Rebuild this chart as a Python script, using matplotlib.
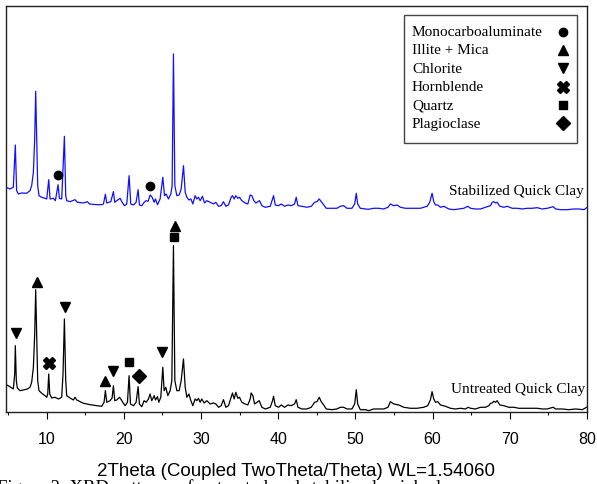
import matplotlib
matplotlib.use("Agg")
import numpy as np
from matplotlib import pyplot as plt
from matplotlib.patches import Rectangle
from matplotlib.ticker import MultipleLocator

# 2theta / intensity (arbitrary units)
untreated_2theta = [
    4.72, 5.02, 5.33, 5.67, 5.85, 5.93, 6.06, 6.19, 6.54, 6.97, 7.49, 7.83, 8.05, 8.27, 8.44, 8.57,
    8.70, 8.83, 9.00, 9.35, 9.78, 10.0, 10.13, 10.26, 10.39, 10.64, 11.08, 11.51, 11.94, 12.11, 12.29,
    12.46, 12.59, 13.02, 13.45, 13.67, 13.89, 14.75, 15.62, 16.48, 17.13, 17.43, 17.60, 17.78, 18.21,
    18.47, 18.64, 18.81, 19.07, 19.42, 19.59, 19.85, 20.16, 20.46, 20.67, 20.85, 21.24, 21.58, 21.84,
    22.01, 22.32, 22.62, 22.88, 23.18, 23.40, 23.61, 23.92, 24.09, 24.35, 24.52, 24.78, 25.04, 25.21,
    25.43, 25.69, 25.99, 26.21, 26.42, 26.60, 26.86, 27.16, 27.42, 27.72, 27.94, 28.16, 28.42, 28.68,
    28.93,
    29.23, 29.45, 29.66, 29.88, 30.09, 30.40, 30.74, 31.18, 31.61, 31.91, 32.26, 32.60, 32.90, 33.21,
    33.55, 33.90, 34.07, 34.29, 34.50, 34.76, 34.98, 35.28, 35.71, 36.06, 36.36, 36.49, 36.71, 36.93,
    37.23, 37.53, 37.88, 38.31, 38.96, 39.26, 39.39, 39.61, 40.04, 40.38, 40.82, 41.25, 41.68, 42.11,
    42.33, 42.55, 43.06, 43.71, 44.28, 44.71, 45.01, 45.31, 45.57, 45.88, 46.22, 46.96, 47.60, 48.04,
    48.47, 48.90, 49.55, 49.90, 50.11, 50.29, 50.63, 51.28, 51.71, 52.36, 53.01, 53.66, 54.22,
    54.53, 54.96, 55.61, 56.26, 57.12, 57.99, 58.85, 59.37, 59.72, 59.93, 60.15, 60.37, 60.67, 61.02,
    61.66, 62.31, 62.96, 63.61, 64.26, 64.60, 64.91, 65.55, 66.20, 66.85, 67.28, 67.50, 67.72, 67.93,
    68.15, 68.36, 68.71, 69.23, 69.88, 70.53, 71.18, 71.82, 72.69, 73.55, 74.20, 74.85, 75.63, 75.93,
    76.80, 77.66, 78.53, 79.39, 79.95,
]
untreated_int = [
    25.3, 24.3, 22.7, 21, 36, 64.3, 29.3, 22, 19.3, 20, 21, 22.7, 27.7, 42.7, 76, 120.3,
    72.7, 29.3, 19.3, 16.7, 14.3, 12.7, 16, 36, 16, 12, 12.7, 11, 12.7, 36, 91,
    29.3, 14.3, 12, 10, 12.7, 10, 6.7, 5.3, 4.3, 3.7, 7.7, 19.3, 7.7, 9.3,
    12, 24.3, 9.3, 10, 12.7, 11, 7.7, 4.3, 7.7, 34.3, 6, 4.3, 7.7, 23.3,
    6, 3.3, 9.3, 7.7, 11, 16, 9.3, 14.3, 10, 13.3, 7.7, 12.7, 42.7, 19.3,
    22.7, 14.3, 19.3, 29.3, 164.3, 29.3, 19.3, 19.3, 29.3, 51, 22.7, 12.7, 16, 9.3,
    4.3,
    11, 9.3, 11.7, 7.7, 11, 7, 9.3, 6, 7, 6, 2.7, 4.3, 10.3, 2.7,
    4.3, 12.7, 17, 11, 17.7, 11.7, 12.7, 7.7, 6, 5, 11, 17, 14.3, 6,
    7.7, 9.3, 2.7, 1, 2.7, 9.3, 13.7, 4.3, 2.7, 5, 2.7, 5, 4.3, 6,
    10.3, 2.7, 1, 1, 2.7, 7.7, 8.3, 12.7, 8.3, 5, 1, 0.3, 1, 2.7,
    2.7, 1, 1, 6, 20.3, 6, 0.3, 0.3, -0.7, 1, 1, 1, 2.7,
    8.3, 6, 5, 2.7, 1.7, 1.7, 2.7, 4.3, 10.3, 18.3, 11, 7.7, 8.3, 5,
    3.7, 1.7, 1, 1.7, 1, 2.7, 1.7, 1, 2.7, 2.7, 4.3, 6.7, 7, 8.7,
    7.7, 9.3, 5, 4.3, 2.7, 2.7, 1.7, 1.7, 1.7, 1.7, 1, 1, 2.7, 1,
    1, 0.3, 1, 0.3, 2.7,
]

stabilized_2theta = [
    4.72, 5.24, 5.67, 5.93, 6.10, 6.32, 6.75, 7.40, 7.83, 8.05, 8.27, 8.44, 8.57, 8.70, 8.83, 9.00,
    9.35, 9.78, 10.0, 10.26, 10.43, 10.86, 11.12, 11.47, 11.64, 11.94, 12.29, 12.46, 12.59, 13.02,
    13.67, 13.97, 14.75, 15.27, 15.53, 16.48, 17.13, 17.35, 17.60, 17.78, 18.30, 18.64, 18.81, 19.07,
    19.51, 19.77, 20.07, 20.37, 20.67, 20.89, 21.24, 21.58, 21.84, 22.01, 22.32, 22.62, 22.88, 23.14,
    23.40, 23.66, 23.92, 24.09, 24.35, 24.69, 25.04, 25.26, 25.47, 25.77, 26.08, 26.25, 26.42, 26.60,
    26.86, 27.16, 27.42, 27.72, 27.94, 28.16, 28.42, 28.68, 28.93,
    29.23, 29.45, 29.66, 29.88, 30.18, 30.44, 30.74, 31.18, 31.61, 31.91, 32.26, 32.60, 32.90, 33.21,
    33.55, 33.90, 34.07, 34.29, 34.50, 34.76, 34.98, 35.28, 35.71, 36.06, 36.36, 36.58, 36.84, 37.10,
    37.36, 37.57, 37.88, 38.31, 38.96, 39.26, 39.39, 39.61, 40.04, 40.38, 40.82, 41.25, 41.68, 42.11,
    42.33, 42.55, 43.06, 43.71, 44.28, 44.71, 45.01, 45.31, 45.57, 45.88, 46.22, 46.96, 47.60, 48.04,
    48.47, 48.90, 49.55, 49.90, 50.11, 50.29, 50.63, 51.28, 51.71, 52.36, 53.01, 53.66, 54.22,
    54.53, 54.96, 55.39, 55.83, 56.48, 57.12, 57.77, 58.42, 58.85, 59.29, 59.63, 59.93, 60.15, 60.37,
    60.67, 61.02, 61.45, 62.10, 62.74, 63.39, 64.04, 64.56, 64.91, 65.55, 66.20, 66.85, 67.28, 67.50,
    67.72, 67.93, 68.15, 68.36, 68.71, 69.23, 69.66, 70.31, 70.96, 71.61, 72.26, 72.90, 73.55, 74.20,
    74.85, 75.63, 75.93, 76.58, 77.44, 78.31, 78.96, 79.61, 79.95,
]
stabilized_int = [
    22.7, 21, 22.7, 65, 19.3, 16, 17, 16.7, 19.3, 24.3, 37.7, 71, 118.7, 71, 24.3, 14.3,
    12.7, 11.7, 11, 30.3, 11, 11.7, 9.3, 25.3, 11.7, 11, 73.7, 14.3, 9.3, 8.3,
    10.3, 7.7, 7, 8.3, 6, 5.3, 5.3, 6, 15.7, 7, 8.3, 18.3, 7.7, 9.3,
    11.7, 7.7, 4.3, 6, 34.3, 6, 5, 7.7, 20.3, 5, 4.3, 7.7, 9.3, 8.7,
    15, 12.7, 7.7, 11, 5.3, 11, 32.7, 14.3, 16, 11, 16, 24.3, 156, 24.3,
    14.3, 15, 21, 44.3, 17.7, 12.7, 10, 11, 6,
    14.3, 11, 12.7, 9.3, 13.7, 7, 9.3, 7.7, 6, 7.7, 3.7, 4.3, 8.3, 3.7,
    5, 12.7, 14.3, 11, 14.3, 11.7, 12.7, 9.3, 7, 6, 15, 14.3, 9.3, 7,
    8.3, 9.3, 4.3, 2.7, 3.7, 11, 14.3, 5, 4.3, 6, 3.7, 5, 4.3, 6,
    12.7, 4.3, 3.7, 2.7, 3.7, 7.7, 8.3, 11, 8.3, 5, 1.7, 1.7, 1.7, 3.7,
    4.3, 1.7, 1.7, 6, 16.7, 6, 1.7, 1, 0.7, 1.7, 1.7, 1, 2.7,
    6, 4.3, 5, 2.7, 1.7, 1.7, 1.7, 1.7, 2.7, 3.7, 7.7, 16.7, 8.3, 5,
    5, 2.7, 3.7, 1, 0.3, 1, 1.7, 3.7, 1.7, 1, 1, 2.7, 3.7, 4.3,
    7.7, 8.3, 7, 7.7, 3.7, 2.7, 3.7, 1.7, 1.7, 1, 1.7, 1.7, 2.3, 1,
    1.7, 3.3, 1, 0.3, 0.3, 1, 1, 0.3, 2.3,
]
stabilized_offset = 200

phases = ['Monocarboaluminate', 'Illite + Mica', 'Chlorite', 'Hornblende', 'Quartz', 'Plagioclase']
phase_markers = ['o', '^', 'v', 'X', 's', 'D']
phase_sizes = [6, 7, 7, 8.5, 5.5, 7]

# peak labels: (2theta, height, phase index)
untreated_peaks = [(6.02, 76.7, 2), (8.70, 128.3, 1), (10.34, 47, 3), (12.37, 103.3, 2),
                   (17.52, 29.3, 1), (18.64, 39.3, 2), (20.72, 47.7, 4), (22.01, 34.3, 5),
                   (24.99, 57.7, 2), (26.55, 173.3, 4), (26.64, 184.3, 1)]
stabilized_peaks = [(11.47, 35, 0), (23.44, 24, 0)]

serif = 'Liberation Serif'
sans = 'Liberation Sans'

fig = plt.figure(figsize=(5.97, 4.85), dpi=100)
ax = fig.add_axes([0.0095, 0.1485, 0.9737, 0.8371])

ax.plot(untreated_2theta, untreated_int, color='black', lw=0.9)
ax.plot(stabilized_2theta, np.array(stabilized_int) + stabilized_offset, color='#1010ff', lw=0.9)

for x, y, k in untreated_peaks:
    ax.plot(x, y, marker=phase_markers[k], ms=phase_sizes[k], color='black', ls='none')
for x, y, k in stabilized_peaks:
    ax.plot(x, y + stabilized_offset, marker=phase_markers[k], ms=phase_sizes[k], color='black', ls='none')

ax.text(79.6, 219, 'Stabilized Quick Clay', ha='right', va='center', fontsize=11, family=serif)
ax.text(79.7, 21, 'Untreated Quick Clay', ha='right', va='center', fontsize=11, family=serif)

# legend box drawn by hand: names left-aligned, symbols in a column on the right
ax.add_patch(Rectangle((0.685, 0.662), 0.298, 0.316, transform=ax.transAxes,
                       facecolor='white', edgecolor='#444444', lw=1.0, zorder=5))
for i, (name, m, s) in enumerate(zip(phases, phase_markers, phase_sizes)):
    yy = 0.937 - i * 0.0452
    ax.text(0.699, yy, name, transform=ax.transAxes, ha='left', va='center',
            fontsize=11, family=serif, zorder=6)
    ax.plot(0.958, yy, marker=m, ms=s, color='black', ls='none',
            transform=ax.transAxes, zorder=6)

ax.set_xlim(4.68, 80)
ax.set_ylim(-2, 404)
ax.set_yticks([])
ax.set_xticks(range(10, 81, 10))
ax.xaxis.set_minor_locator(MultipleLocator(5))
ax.tick_params(axis='x', which='major', length=5, width=0.8, direction='out', pad=8.5)
ax.tick_params(axis='x', which='minor', length=2.5, width=0.8, direction='out')
for lab in ax.get_xticklabels():
    lab.set_family(sans)
    lab.set_fontsize(11.5)
for sp in ax.spines.values():
    sp.set_linewidth(1.0)
    sp.set_color('#222222')

ax.set_xlabel('2Theta (Coupled TwoTheta/Theta) WL=1.54060', family=sans, fontsize=13.5, labelpad=12)

# caption that is cut off by the bottom edge of the picture
fig.text(-0.005, 0.012, 'Figure 3. XRD patterns of untreated and stabilized quick clay',
         ha='left', va='top', fontsize=13.5, family=serif)

fig.savefig('out.png', dpi=100)
